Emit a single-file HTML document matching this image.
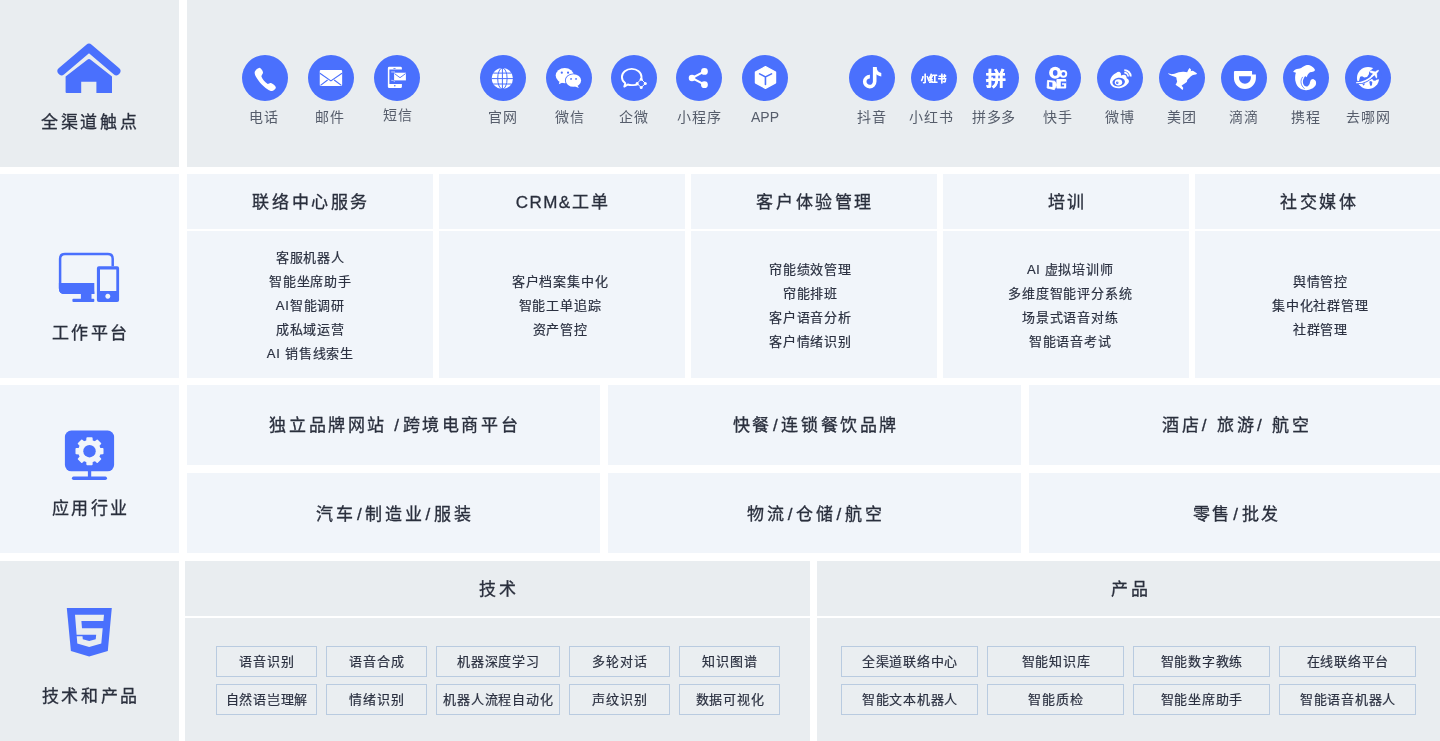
<!DOCTYPE html>
<html lang="zh-CN">
<head>
<meta charset="utf-8">
<title>全渠道架构</title>
<style>
*{box-sizing:border-box;margin:0;padding:0}
html,body{width:1440px;height:741px;overflow:hidden;background:#fff}
body{position:relative;will-change:transform;font-family:"Liberation Sans",sans-serif;color:#2b3141;-webkit-font-smoothing:antialiased}
.p{position:absolute;overflow:hidden}
.g1{background:#e9edf0}
.g2{background:#f1f5fa}
.side{left:0;width:179px}
.side .t{position:absolute;left:0;width:179px;text-align:center;font-size:17px;letter-spacing:2.6px;text-indent:2.6px;line-height:24px;color:#2a2f3d;-webkit-text-stroke:0.3px #2a2f3d;white-space:nowrap}
.side svg{position:absolute}
.hd{display:flex;align-items:center;justify-content:center;padding-bottom:3px;font-size:17px;letter-spacing:2.6px;text-indent:2.6px;color:#2a2f3d;-webkit-text-stroke:0.3px #2a2f3d;white-space:nowrap}
.bd{display:flex;flex-direction:column;align-items:center;justify-content:center;padding-top:2px;font-size:13px;letter-spacing:.8px;text-indent:.8px;-webkit-text-stroke:0.2px #2b3141;line-height:24px;color:#2b3141;white-space:nowrap;text-align:center}
.ch{position:absolute;top:55px;width:46px;height:46px;border-radius:50%;background:#4a70fd}
.ch svg{position:absolute;left:0;top:0;width:46px;height:46px}
.lb{position:absolute;top:107px;width:90px;margin-left:-22px;text-align:center;font-size:14px;line-height:20px;letter-spacing:1px;text-indent:1px;color:#565d6b;white-space:nowrap}
.tag{position:absolute;height:31px;border:1px solid #b9cbe0;background:#eaeef1;font-size:13px;letter-spacing:.75px;text-indent:.75px;-webkit-text-stroke:0.2px #2b3141;line-height:30px;text-align:center;color:#2b3141;white-space:nowrap}
.s{margin:0 1.2px}
</style>
</head>
<body>

<!-- ROW 1 -->
<div class="p g1 side" style="top:0;height:167px">
  <!--ICON-HOME--><svg style="left:55px;top:40px" width="68" height="56" viewBox="55 40 68 56"><path d="M61.6,71.2L89,47.8L116.3,71.2" fill="none" stroke="#4a70fd" stroke-width="8.2" stroke-linecap="round" stroke-linejoin="round"/><path d="M65.6,93.1V76.5L87.3,59.7Q89,58.4 90.7,59.7L112,76.5V93.1Q112,93.1 111,93.1H96.4V81.7H81.2V93.1H66.6Q65.6,93.1 65.6,92.1Z" fill="#4a70fd"/></svg><!--/ICON-HOME-->
  <div class="t" style="top:111px;left:-0.6px">全渠道触点</div>
</div>
<div class="p g1" style="left:187px;top:0;width:1253px;height:167px" id="r1">
  <!--CHANNELS--><div class="ch" style="left:55px"><svg viewBox="0 0 46 46"><path fill="#fff" d="M16.9,12.9C18.6,12.4 20.6,15.6 21,17.3C21.3,18.7 19.5,19.8 19.4,21.4C20.6,24.5 23,27.3 25.8,28.9C27,28.7 27.8,27.5 29,28.1C30.7,28.9 33.5,30.7 33.8,32.2C34,33.6 31.8,35.7 30.2,35.9C28.8,36.1 27.2,35.4 26.2,34.7C22.6,32.6 19.6,29.6 18.1,27.8C15.8,25 13.9,22.1 13.3,20.6C12.6,18.7 12.5,17.5 12.9,16.5C13.5,14.8 15.5,13.3 16.9,12.9Z"/></svg></div><div class="lb" style="left:53.6px;top:107px">电话</div>
  <div class="ch" style="left:121px"><svg viewBox="0 0 46 46"><rect x="11.75" y="14.9" width="22.4" height="16.1" rx="1" fill="#fff"/><path d="M11.9,18.2L22.9,25.9L34,18.2M12.5,30.4L19.6,25M33.4,30.4L26.2,25" fill="none" stroke="#4a70fd" stroke-width="1.15"/></svg></div><div class="lb" style="left:119.9px;top:107px">邮件</div>
  <div class="ch" style="left:187px"><svg viewBox="0 0 46 46"><path fill="#fff" d="M15.3,11.8H26.5Q27.9,11.8 27.9,13.2V14.5H15.4V29H27.9V31.7Q27.9,33.1 26.5,33.1H15.3Q13.85,33.1 13.85,31.7V13.2Q13.85,11.8 15.3,11.8Z"/><rect x="19.3" y="13" width="2.4" height="0.7" rx="0.35" fill="#4a70fd"/><circle cx="20.8" cy="30.8" r="0.8" fill="#4a70fd"/><rect x="20.1" y="17.7" width="11.8" height="7.7" fill="#fff"/><path d="M20.5,18.6L26,22.7L31.6,18.6" fill="none" stroke="#4a70fd" stroke-width="0.9"/><rect x="17.2" y="16.2" width="3.7" height="1.5" fill="#fff" opacity=".45"/><path d="M17.2,25.3Q19,25 20.9,26.6" fill="none" stroke="#fff" stroke-width="0.8" opacity=".7"/></svg></div><div class="lb" style="left:187.0px;top:105px">短信</div>
  <div class="ch" style="left:293px"><svg viewBox="0 0 46 46"><circle cx="22.4" cy="23.5" r="10.6" fill="#fff"/><g fill="none" stroke="#4a70fd" stroke-width="1"><path d="M22.4,12.5V34.5M11.5,23.6H33.5M13.2,18.1H31.6M13.2,29H31.6"/><ellipse cx="22.4" cy="23.5" rx="4.7" ry="10.6"/></g></svg></div><div class="lb" style="left:292.3px;top:107px">官网</div>
  <div class="ch" style="left:359px"><svg viewBox="0 0 46 46"><ellipse cx="18.75" cy="20.55" rx="9.06" ry="7.65" fill="#fff"/><path d="M13.6,26.2L12.8,29.3L16.6,27.6Z" fill="#fff"/><ellipse cx="27.45" cy="25.55" rx="8.5" ry="7.15" fill="#4a70fd"/><ellipse cx="27.45" cy="25.55" rx="7.65" ry="6.3" fill="#fff"/><path d="M31.5,30.4L32.9,33L29,31.6Z" fill="#fff"/><circle cx="15.8" cy="17.7" r="1.1" fill="#4a70fd"/><circle cx="22.05" cy="17.7" r="1.1" fill="#4a70fd"/><circle cx="25.05" cy="23.95" r="0.9" fill="#4a70fd"/><circle cx="30.05" cy="23.95" r="0.9" fill="#4a70fd"/></svg></div><div class="lb" style="left:359.0px;top:107px">微信</div>
  <div class="ch" style="left:424px"><svg viewBox="0 0 46 46"><path d="M27.2,29.2C25.5,30 23.2,30.3 20.7,30.1C19.3,30.1 18,29.9 16.8,29.5L13.3,31.6L14.3,28.3C12.2,26.8 10.9,24.5 10.9,22C10.9,17.5 15.3,13.9 20.7,13.9C26.1,13.9 30.5,17.5 30.5,22C30.5,22.7 30.4,23.4 30.2,24" fill="none" stroke="#fff" stroke-width="1.9" stroke-linejoin="round"/><path d="M30.2,24.2L34.4,28.45L30.2,32.6L26,28.45Z" fill="none" stroke="#fff" stroke-width="1" stroke-linejoin="round"/><circle cx="30.2" cy="24.3" r="1.5" fill="#fff"/><circle cx="34.3" cy="28.45" r="1.5" fill="#fff"/><circle cx="30.2" cy="32.5" r="1.5" fill="#fff"/><circle cx="26.1" cy="28.45" r="1.5" fill="#fff"/></svg></div><div class="lb" style="left:423.2px;top:107px">企微</div>
  <div class="ch" style="left:489px"><svg viewBox="0 0 46 46"><path d="M28.45,16.4L15.97,22.97L28.45,29.65" fill="none" stroke="#fff" stroke-width="2.1"/><circle cx="15.97" cy="22.97" r="3.25" fill="#fff"/><circle cx="28.45" cy="16.4" r="3.4" fill="#fff"/><circle cx="28.45" cy="29.65" r="3.4" fill="#fff"/></svg></div><div class="lb" style="left:489.4px;top:107px">小程序</div>
  <div class="ch" style="left:555px"><svg viewBox="0 0 46 46"><path d="M23.45,10.95L34.2,16.65V28.2L23.45,34L12.8,28.2V16.65Z" fill="#fff" stroke="#fff" stroke-width="1.4" stroke-linejoin="round" transform="translate(23.45 22.5) scale(0.94) translate(-23.45 -22.5)"/><path d="M17.6,18.9L23.45,21.9L29.5,18.9M23.45,21.9V29.5" fill="none" stroke="#4a70fd" stroke-width="1.6" stroke-linecap="round"/></svg></div><div class="lb" style="left:555.0px;top:107px;letter-spacing:0;text-indent:0">APP</div>
  <div class="ch" style="left:662px"><svg viewBox="0 0 46 46"><path d="M20.9,21.6A5,5 0 1 0 25.7,26.6V12.05" fill="none" stroke="#fff" stroke-width="3.6"/><path d="M25.6,12.05H27.5C27.7,15.6 29.6,17.6 32.3,18V21.4C29.6,21.2 27.6,20 26.3,18.3Z" fill="#fff"/></svg></div><div class="lb" style="left:661.3px;top:107px">抖音</div>
  <div class="ch" style="left:724px"><svg viewBox="0 0 46 46"><text x="22.6" y="27.1" text-anchor="middle" font-size="9" font-weight="700" fill="#fff" stroke="#fff" stroke-width="0.35" textLength="25.2" lengthAdjust="spacingAndGlyphs" font-family="Liberation Sans,sans-serif">小红书</text></svg></div><div class="lb" style="left:721.2px;top:107px">小红书</div>
  <div class="ch" style="left:786px"><svg viewBox="0 0 46 46"><text x="23" y="31" text-anchor="middle" font-size="19.8" font-weight="700" fill="#fff" stroke="#fff" stroke-width="0.5" font-family="Liberation Sans,sans-serif">拼</text></svg></div><div class="lb" style="left:783.4px;top:107px;letter-spacing:0.6px">拼多多</div>
  <div class="ch" style="left:848px"><svg viewBox="0 0 46 46"><circle cx="20.15" cy="17.8" r="6.05" fill="#fff"/><ellipse cx="20.2" cy="17.9" rx="2.3" ry="2.8" fill="#4a70fd"/><circle cx="28.35" cy="18.8" r="3.9" fill="#fff"/><circle cx="28.45" cy="18.85" r="1.85" fill="#4a70fd"/><rect x="21.4" y="23.9" width="9.8" height="9.6" rx="1" fill="#fff"/><path d="M25.8,26.4H31.3V28.2H27V29.8H29.1V31.4H25.8Z" fill="#4a70fd"/><path d="M12.5,25.4L19.75,26.2L21.75,29.8L19.35,34.65L12.1,33Z" fill="#fff" stroke="#fff" stroke-width="0.8" stroke-linejoin="round"/><path d="M14.1,27L17.4,27.4V32L14.1,31.4Z" fill="#4a70fd"/></svg></div><div class="lb" style="left:847.2px;top:107px">快手</div>
  <div class="ch" style="left:910px"><svg viewBox="0 0 46 46"><path fill="#fff" d="M12.96,26.4C13.2,24.5 14,22.6 15.15,21.05C16.2,19.7 17.6,18.6 19.05,17.9C20.1,17.3 21.4,16.7 22.45,16.9C23.3,17.1 23.8,17.9 23.95,18.8C24,19.4 23.9,20.3 24.15,20.55C25.2,20.1 26.3,19.7 27.3,19.8C28.3,19.9 29.1,20.7 29.5,21.75C29.7,22.4 29.5,23 29.7,23.3C30.8,23.8 31.8,24.7 31.9,25.9C32,27 31.5,28 30.7,28.8C28.8,31.4 25.6,33 22.45,33.2C20.4,33.3 18.3,33 16.6,32.2C15.2,31.5 14,30.3 13.45,28.8C13.1,28 12.9,27.2 12.96,26.4Z"/><ellipse cx="21.7" cy="27.1" rx="6.3" ry="4.4" fill="#4a70fd" transform="rotate(-8 21.7 27.1)"/><ellipse cx="21.5" cy="27.3" rx="3.7" ry="3.15" fill="#fff"/><circle cx="20.25" cy="27.65" r="1.25" fill="#4a70fd"/><circle cx="20.7" cy="27" r="0.4" fill="#fff"/><path d="M27.3,15.1A6.4,6.4 0 0 1 33.7,21.5" fill="none" stroke="#fff" stroke-width="1.95"/><path d="M27.3,17.6A3.9,3.9 0 0 1 31.2,21.5" fill="none" stroke="#fff" stroke-width="1.6"/></svg></div><div class="lb" style="left:909.3px;top:107px">微博</div>
  <div class="ch" style="left:972px"><svg viewBox="0 0 46 46"><path fill="#fff" d="M8.9,18.1C10.8,19.2 12.6,19.3 14.1,19.1C16,18.8 17.8,17.8 19.75,17.35C21.4,16.9 23,16.6 24.6,16.7C26,16.8 27.2,17.2 28.2,17.3C28.5,16.6 28.7,15.9 29.1,15.3C29.5,14.4 30,13.5 30.6,12.9C31.3,13.5 31.9,14.2 32.2,15.1L31.5,16.3C32.2,15.9 33,15.6 33.6,15.7C34.4,16 35.2,16.5 35.85,16.95C36.7,17.4 37.5,17.9 38.05,18.55C37.7,19.1 37.2,19.4 36.65,19.6C35.6,19.9 34.5,20 33.45,20.15C32.2,21 31.1,22 30.2,23C29.5,23.7 28.8,24.3 28.2,25C28.2,25.7 28.1,26.4 27.8,27C26.9,27.8 25.9,28.4 25,29C24.2,29.6 23.3,30.1 22.55,30.65C23.2,31.2 23.8,31.9 24.2,32.65C24.2,33.5 24,34.3 23.6,35.05C22.6,34.4 21.7,33.6 20.95,32.65C19.4,31.8 17.9,30.9 16.55,29.8C17.2,28.8 17.8,27.7 18.15,26.6C17.7,25.3 17.4,23.9 17.35,22.55C16.3,22 15.2,21.6 14.1,21.35C12.7,21 11.3,20.4 10.1,19.6C9.6,19.2 9.2,18.7 8.9,18.1Z"/></svg></div><div class="lb" style="left:971.3px;top:107px">美团</div>
  <div class="ch" style="left:1034px"><svg viewBox="0 0 46 46"><path fill="#fff" d="M13.95,16.1H31.05V19.6H34.9V23.05A10.97,10.97 0 0 1 12.95,23.05V17.1Q12.95,16.1 13.95,16.1Z"/><path fill="#4a70fd" d="M18,21.35H29.85V22.9A5.92,5.92 0 0 1 18,22.9Z"/></svg></div><div class="lb" style="left:1033.3px;top:107px">滴滴</div>
  <div class="ch" style="left:1096px"><svg viewBox="0 0 46 46"><path fill="#fff" d="M10.1,16.95C10.7,15.9 11.5,15 12.5,14.5C14.3,13.7 16.3,13.5 18.15,12.9C20,12 21.8,10.6 23.8,10.1C25.5,9.9 27.3,10.4 28.6,11.3C30,12.2 31.3,13.4 32,14.9C31.7,15.6 31.2,16.1 30.6,16.5C29.4,16.9 28.2,17 27,17.35C26.2,17.9 25.5,18.6 25,19.35C24.5,20.2 24.1,21.2 23.8,22.15C23.3,21.7 22.7,21.4 22.15,21.35C21.6,21.8 21.2,22.4 21,23C20.2,24.2 19.8,25.6 19.9,27C20,28.6 20.6,30.1 21.75,31C22.8,31.6 24,31.6 25,30.9C26,30.2 26.7,29 26.85,27.8C27.2,26.8 27.4,25.9 27.8,25C28.5,24.4 29.3,24 30.2,23.95C31.3,24.4 32.3,25.2 32.8,26.2C33.2,27.5 33.2,28.9 32.65,30.2C31.8,31.8 30.3,33 28.6,33.85C26.9,34.7 24.9,35.3 23,35.2C20.6,35 18.3,34.4 16.55,33.05C14.8,31.7 13.5,29.9 12.9,27.8C12.3,26 12,24.1 12.1,22.15C12.2,20.6 12.4,19.1 12.9,17.75C12,17.3 11,17 10.1,16.95Z"/><path d="M19.7,21.9C16.9,25.5 17.6,30.6 21.6,33.7" fill="none" stroke="#4a70fd" stroke-width="0.8"/></svg></div><div class="lb" style="left:1095.3px;top:107px">携程</div>
  <div class="ch" style="left:1158px"><svg viewBox="0 0 46 46"><circle cx="23.05" cy="23" r="11.1" fill="#fff"/><g fill="#4a70fd"><path d="M28.27,13.02L26.09,14.96L24.24,16.42L23.9,19.34L22.05,22.01L19.28,22.59L17.09,21.28L15.15,21.87L13.98,25.9L17.58,26.63L23.41,24.44L27.2,24.05L28.27,25.51L30.22,25.8L31.58,24.83L34.35,24.25L36.54,19.58L33.13,13.26Z"/><path d="M17,28.57L20.11,28.43L18.65,30.66Z"/><path d="M24.29,26.63L25.84,26L27.3,26.97L26.91,30.52L25.16,30.66Z"/></g><path d="M11.02,27.36Q20.5,26.97 28.37,19.19L29.05,20.16Q21.71,28.91 11.02,28.33Z" fill="#fff" stroke="#4a70fd" stroke-width="1.9" stroke-linejoin="round" paint-order="stroke"/><path d="M33.72,15.06L32.06,15.5L30.31,16.86L26.09,15.74L24.48,16.47L24.97,17.15L28.18,18.8L26.13,20.84L25.84,21.62L26.82,22.11L29.34,20.16L29.83,20.46L31.29,23.18L32.06,22.59L31.77,18.22L33.43,16.28Z" fill="#fff" stroke="#fff" stroke-width="0.3" stroke-linejoin="round"/></svg></div><div class="lb" style="left:1158.0px;top:107px">去哪网</div><!--/CHANNELS-->
</div>

<!-- ROW 2 -->
<div class="p g2 side" style="top:174px;height:204px">
  <!--ICON-WORK--><svg style="left:55px;top:75px" width="68" height="56" viewBox="55 249 68 56"><path d="M112.7,266.2V258.8Q112.7,254 107.9,254H64.9Q60.1,254 60.1,258.8V288Q60.1,292.8 64.9,292.8H94.3" fill="none" stroke="#4a70fd" stroke-width="2.5"/><path d="M58.9,283H94.3V294H64.4Q58.9,294 58.9,288.5Z" fill="#4a70fd"/><rect x="80.9" y="293" width="10.6" height="7" fill="#4a70fd"/><rect x="72.4" y="298.8" width="21.9" height="3.2" rx="1" fill="#4a70fd"/><path fill-rule="evenodd" d="M98.9,266.2H117.1Q119.1,266.2 119.1,268.2V300Q119.1,302 117.1,302H98.9Q96.9,302 96.9,300V268.2Q96.9,266.2 98.9,266.2ZM100,269.4V291H116.3V269.4ZM107.8,293.8A2.5,2.5 0 1 0 107.81,293.8Z" fill="#4a70fd"/></svg><!--/ICON-WORK-->
  <div class="t" style="top:148.3px">工作平台</div>
</div>
<div class="p g2 hd" style="left:187px;top:174px;width:246px;height:55px"><div>联络中心服务</div></div>
<div class="p g2 bd" style="left:187px;top:231px;width:246px;height:147px"><div>客服机器人</div><div>智能坐席助手</div><div>AI智能调研</div><div>成私域运营</div><div>AI 销售线索生</div></div>
<div class="p g2 hd" style="left:439px;top:174px;width:246px;height:55px"><div><span style="letter-spacing:1.4px">CRM&amp;</span>工单</div></div>
<div class="p g2 bd" style="left:439px;top:231px;width:246px;height:147px;padding-right:4.6px"><div>客户档案集中化</div><div>智能工单追踪</div><div>资产管控</div></div>
<div class="p g2 hd" style="left:691px;top:174px;width:246px;height:55px"><div>客户体验管理</div></div>
<div class="p g2 bd" style="left:691px;top:231px;width:246px;height:147px;padding-right:8px"><div>帘能绩效管理</div><div>帘能排班</div><div>客户语音分析</div><div>客户情绪识别</div></div>
<div class="p g2 hd" style="left:943px;top:174px;width:246px;height:55px"><div>培训</div></div>
<div class="p g2 bd" style="left:943px;top:231px;width:246px;height:147px;padding-left:7.8px"><div>Al 虚拟培训师</div><div>多维度智能评分系统</div><div>场景式语音对练</div><div>智能语音考试</div></div>
<div class="p g2 hd" style="left:1195px;top:174px;width:246px;height:55px"><div>社交媒体</div></div>
<div class="p g2 bd" style="left:1195px;top:231px;width:246px;height:147px;padding-left:4px"><div>舆情管控</div><div>集中化社群管理</div><div>社群管理</div></div>

<!-- ROW 3 -->
<div class="p g2 side" style="top:385px;height:168px">
  <!--ICON-APP--><svg style="left:55px;top:40px" width="68" height="60" viewBox="55 425 68 60"><rect x="64.9" y="430.6" width="49.2" height="40.7" rx="6.5" fill="#4a70fd"/><rect x="87.9" y="470" width="3.3" height="8" fill="#4a70fd"/><rect x="71.9" y="476.6" width="35.1" height="3.3" rx="1.65" fill="#4a70fd"/><path d="M87.03,440.89L87.20,438.00L91.80,438.00L91.97,440.89L95.04,442.16L97.21,440.24L100.46,443.49L98.54,445.66L99.81,448.73L102.70,448.90L102.70,453.50L99.81,453.67L98.54,456.74L100.46,458.91L97.21,462.16L95.04,460.24L91.97,461.51L91.80,464.40L87.20,464.40L87.03,461.51L83.96,460.24L81.79,462.16L78.54,458.91L80.46,456.74L79.19,453.67L76.30,453.50L76.30,448.90L79.19,448.73L80.46,445.66L78.54,443.49L81.79,440.24L83.96,442.16Z" fill="#f1f5fa" stroke="#f1f5fa" stroke-width="1.6" stroke-linejoin="round"/><circle cx="89.5" cy="451.2" r="6.2" fill="#4a70fd"/></svg><!--/ICON-APP-->
  <div class="t" style="top:112.4px">应用行业</div>
</div>
<div class="p g2 hd" style="left:187px;top:385px;width:413px;height:80px"><div>独立品牌网站 <span style="margin-right:1px">/</span>跨境电商平台</div></div>
<div class="p g2 hd" style="left:608px;top:385px;width:413px;height:80px"><div>快餐<span class="s">/</span>连锁餐饮品牌</div></div>
<div class="p g2 hd" style="left:1029px;top:385px;width:413px;height:80px"><div>酒店<span style="margin:0 .7px">/</span> 旅游<span style="margin:0 .7px">/</span> 航空</div></div>
<div class="p g2 hd" style="left:187px;top:473px;width:413px;height:80px;padding-bottom:0.2px"><div>汽车<span class="s">/</span>制造业<span class="s">/</span>服装</div></div>
<div class="p g2 hd" style="left:608px;top:473px;width:413px;height:80px;padding-bottom:0.2px"><div>物流<span class="s">/</span>仓储<span class="s">/</span>航空</div></div>
<div class="p g2 hd" style="left:1029px;top:473px;width:413px;height:80px;padding-bottom:0.2px"><div>零售<span class="s">/</span>批发</div></div>

<!-- ROW 4 -->
<div class="p g1 side" style="top:561px;height:180px">
  <!--ICON-H5--><svg style="left:55px;top:40px" width="68" height="60" viewBox="55 601 68 60"><path d="M66.8,608H111.8L107.8,650.9L89.2,656.5L70.9,650.9Z" fill="#4a70fd"/><path d="M75,614.8H104L103.4,621H81.4L82,628.2H102.7L101.3,643.5L89.2,646.9L77.3,643.5L76.7,636.3H82.5L82.8,639.3L89.2,641.1L95.7,639.3L96.2,634.7H76.6Z" fill="#e9edf0"/></svg><!--/ICON-H5-->
  <div class="t" style="top:124.3px">技术和产品</div>
</div>
<div class="p g1 hd" style="left:185px;top:561px;width:625px;height:55px"><div>技术</div></div>
<div class="p g1" style="left:185px;top:618px;width:625px;height:123px"></div>
<div class="p g1 hd" style="left:817px;top:561px;width:625px;height:55px"><div>产品</div></div>
<div class="p g1" style="left:817px;top:618px;width:625px;height:123px"></div>

<div class="tag" style="left:216px;top:646px;width:101px">语音识别</div>
<div class="tag" style="left:326px;top:646px;width:101px">语音合成</div>
<div class="tag" style="left:436px;top:646px;width:124px">机器深度学习</div>
<div class="tag" style="left:569px;top:646px;width:101px">多轮对话</div>
<div class="tag" style="left:679px;top:646px;width:101px">知识图谱</div>
<div class="tag" style="left:216px;top:684px;width:101px">自然语岂理解</div>
<div class="tag" style="left:326px;top:684px;width:101px">情绪识别</div>
<div class="tag" style="left:436px;top:684px;width:124px">机器人流程自动化</div>
<div class="tag" style="left:569px;top:684px;width:101px">声纹识别</div>
<div class="tag" style="left:679px;top:684px;width:101px">数据可视化</div>

<div class="tag" style="left:841px;top:646px;width:137px">全渠道联络中心</div>
<div class="tag" style="left:987px;top:646px;width:137px">智能知识库</div>
<div class="tag" style="left:1133px;top:646px;width:137px">智能数字教练</div>
<div class="tag" style="left:1279px;top:646px;width:137px">在线联络平台</div>
<div class="tag" style="left:841px;top:684px;width:137px">智能文本机器人</div>
<div class="tag" style="left:987px;top:684px;width:137px">智能质检</div>
<div class="tag" style="left:1133px;top:684px;width:137px">智能坐席助手</div>
<div class="tag" style="left:1279px;top:684px;width:137px">智能语音机器人</div>

</body>
</html>
